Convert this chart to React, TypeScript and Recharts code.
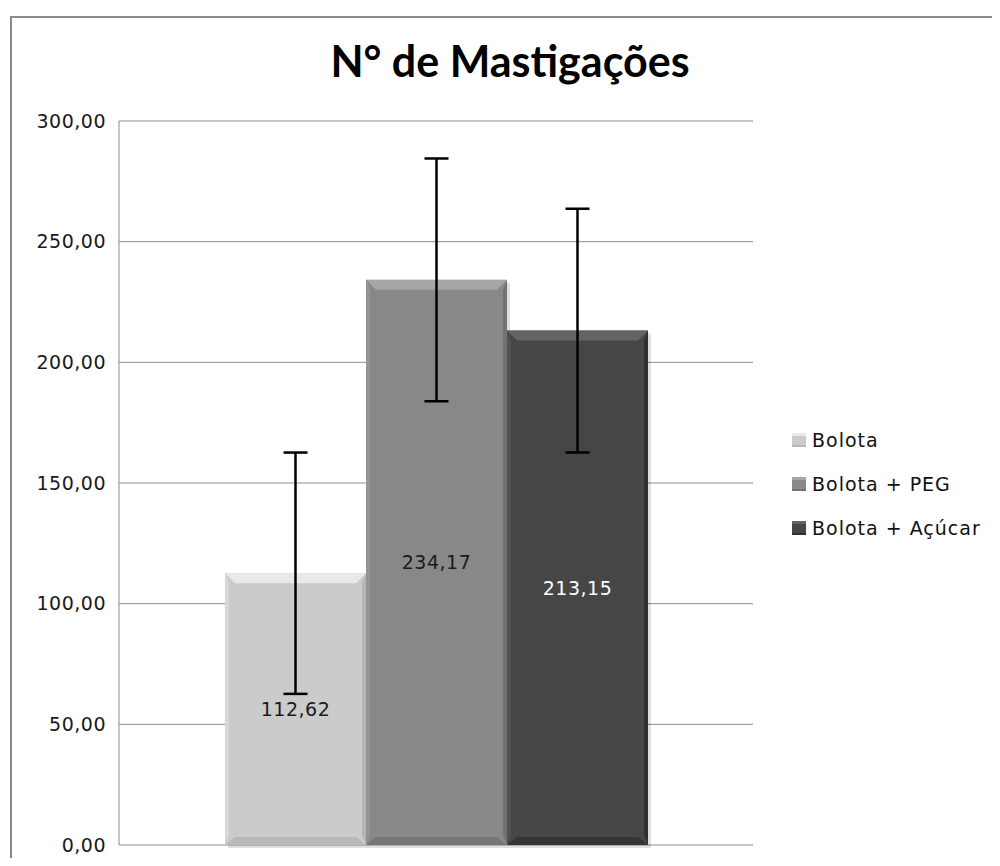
import React from "react";
import { BarChart, Bar, XAxis, YAxis, CartesianGrid, ErrorBar, LabelList, Legend } from "recharts";

const seriesNames = ["Bolota", "Bolota + PEG", "Bolota + Açúcar"];
const seriesKeys = ["bolota", "peg", "acucar"];
const seriesValues = [112.62, 234.17, 213.15];
const seriesErrors = [50.0, 50.3, 50.5];
const yTicks = [0, 50, 100, 150, 200, 250, 300];

const colors = ["#cbcbcb", "#888888", "#464646"];
const labelColors = ["#1a1a1a", "#1a1a1a", "#ffffff"];

const row: Record<string, number | string> = { name: "" };
seriesKeys.forEach((k, i) => {
  row[k] = seriesValues[i];
  row[k + "Err"] = seriesErrors[i];
});
const data = [row];

const fmt = (v: number) => v.toFixed(2).replace(".", ",");

function shade(hex: string, amt: number) {
  const n = parseInt(hex.slice(1), 16);
  const f = (c: number) => Math.max(0, Math.min(255, Math.round(c + amt)));
  const r = f((n >> 16) & 255), g = f((n >> 8) & 255), b = f(n & 255);
  return `rgb(${r},${g},${b})`;
}

// bevelled bar, roughly like the office "cool slant" style
function Bevel(props: any) {
  const { x, y, width: w, height: h, fill } = props;
  if (!w || !h) return null;
  const b = 10;
  const s = 3;
  return (
    <g>
      <rect x={x + s} y={y + s} width={w} height={h} fill="#000" opacity={0.12} />
      <rect x={x} y={y} width={w} height={h} fill={fill} />
      <polygon points={`${x},${y} ${x + w},${y} ${x + w - b},${y + b} ${x + b},${y + b}`} fill={shade(fill, 30)} />
      <polygon points={`${x},${y} ${x + 4},${y + b} ${x + 4},${y + h - b} ${x},${y + h}`} fill={shade(fill, 12)} />
      <polygon points={`${x + w},${y} ${x + w - 4},${y + b} ${x + w - 4},${y + h - b} ${x + w},${y + h}`} fill={shade(fill, -22)} />
      <polygon points={`${x},${y + h} ${x + w},${y + h} ${x + w - b},${y + h - 8} ${x + b},${y + h - 8}`} fill={shade(fill, -18)} />
    </g>
  );
}

function LegendBox({ payload }: any) {
  const items = [...(payload || [])].sort(
    (a: any, b: any) => seriesNames.indexOf(a.value) - seriesNames.indexOf(b.value)
  );
  return (
    <div style={{ fontFamily: "DejaVu Sans", fontSize: 19, letterSpacing: 1, color: "#111" }}>
      {items.map((p: any, i: number) => (
        <div key={i} style={{ display: "flex", alignItems: "center", height: 44 }}>
          <span
            style={{
              width: 14,
              height: 14,
              marginRight: 6,
              background: p.color,
              boxShadow: `inset 0 3px 0 ${shade(p.color, 30)}, inset 0 -2px 0 ${shade(p.color, -20)}`,
            }}
          />
          <span>{p.value}</span>
        </div>
      ))}
    </div>
  );
}

export default function App() {
  return (
    <div style={{ position: "relative", width: 1000, height: 866, margin: -8, overflow: "hidden", background: "#fff" }}>
      <div
        style={{
          position: "absolute",
          left: 10,
          top: 16,
          width: 1100,
          height: 1000,
          border: "2px solid #8a8a8a",
          boxSizing: "border-box",
        }}
      />
      <div
        style={{
          position: "absolute",
          left: 0,
          width: 1020,
          top: 35,
          textAlign: "center",
          fontFamily: "Lato",
          fontWeight: 700,
          fontSize: 43,
          color: "#000",
        }}
      >
        N° de Mastigações
      </div>
      <div style={{ position: "absolute", left: 0, top: 0 }}>
        <BarChart
          width={1000}
          height={866}
          data={data}
          margin={{ top: 121, right: 247, bottom: 21, left: 0 }}
          barCategoryGap={106}
          barGap={0}
        >
          <CartesianGrid vertical={false} stroke="#8c8c8c" strokeWidth={1} />
          <XAxis dataKey="name" hide />
          <YAxis
            width={119}
            domain={[0, 300]}
            ticks={yTicks}
            tickFormatter={fmt}
            axisLine={{ stroke: "#8c8c8c" }}
            tickLine={false}
            tickMargin={7}
            tick={{ fontFamily: "DejaVu Sans", fontSize: 19, fill: "#1a1a1a", letterSpacing: 0.5 }}
          />
          <Legend
            layout="horizontal"
            verticalAlign="middle"
            align="center"
            content={<LegendBox />}
            wrapperStyle={{ left: 792, top: 418, width: 210 }}
          />
          {seriesKeys.map((k, i) => (
            <Bar
              key={k}
              dataKey={k}
              name={seriesNames[i]}
              fill={colors[i]}
              shape={<Bevel />}
              isAnimationActive={false}
            >
              <ErrorBar dataKey={k + "Err"} width={12} stroke="#000" strokeWidth={2.5} direction="y" />
              <LabelList
                dataKey={k}
                position="center"
                formatter={fmt as never}
                style={{ fontFamily: "DejaVu Sans", fontSize: 19, letterSpacing: 0.5, fill: labelColors[i] }}
              />
            </Bar>
          ))}
        </BarChart>
      </div>
    </div>
  );
}
